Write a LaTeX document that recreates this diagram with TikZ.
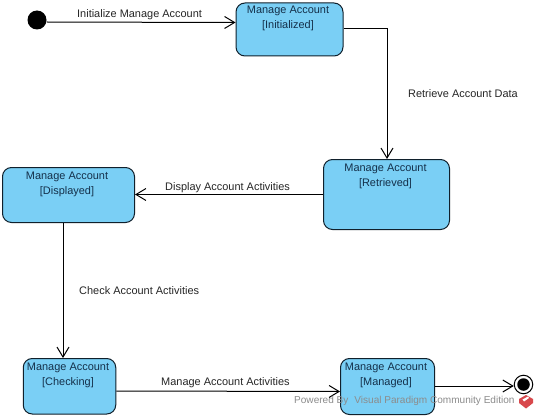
\documentclass[tikz,border=0pt]{standalone}
\usepackage{fontspec}
\setmainfont{Liberation Sans}
\usetikzlibrary{arrows.meta}
\definecolor{stfill}{HTML}{7ACFF5}
\definecolor{stline}{HTML}{10202C}
\definecolor{sttext}{HTML}{14304A}
\definecolor{logored}{HTML}{D8484C}
\tikzset{
  statebox/.style={draw=stline,fill=stfill,line width=1pt,rounded corners=9pt,anchor=north west,inner sep=0pt},
  lbl/.style={font=\fontsize{10.95}{15}\selectfont,text=black!85,inner sep=0pt},
  stlbl/.style={lbl,align=center,text=sttext},
  conn/.style={draw=black,line width=1pt,-{Straight Barb[length=10pt,width=12pt,line width=1pt]}},
  dot/.style={circle,fill=black,inner sep=0pt},
}
\begin{document}
\begin{tikzpicture}[x=1pt,y=-1pt]
\useasboundingbox (0,0) rectangle (538,417);
\fill[white] (0,0) rectangle (538,417);

\node[dot,minimum size=19pt] (start) at (37,20) {};
\node[statebox,minimum width=107pt,minimum height=53pt] (init) at (235.5,2.5) {};
\node[statebox,minimum width=126pt,minimum height=70pt] (retr) at (323,159) {};
\node[statebox,minimum width=132pt,minimum height=55pt] (disp) at (2,167) {};
\node[statebox,minimum width=92.5pt,minimum height=55.5pt] (chk) at (22.75,358) {};
\node[statebox,minimum width=94pt,minimum height=56pt] (mng) at (340,358) {};

\node[stlbl,anchor=north] (tinit) at (288,6) {Manage Account\\{}[Initialized]};
\node[stlbl,anchor=north] (tretr) at (385.5,164) {Manage Account\\{}[Retrieved]};
\node[stlbl,anchor=north] (tdisp) at (67,172) {Manage Account\\{}[Displayed]};
\node[stlbl,anchor=north] (tchk) at (68,362.5) {Manage Account\\{}[Checking]};
\node[stlbl,anchor=north] (tmng) at (386,362.5) {Manage Account\\{}[Managed]};

\node[circle,draw=black,fill=white,line width=1pt,minimum size=18.5pt,inner sep=0pt] (final) at (523.5,384.5) {};
\node[dot,minimum size=12.5pt] (finaldot) at (final) {};

\draw[conn] ([yshift=-2pt]start.east) -- ([yshift=7pt]init.west);
\draw[conn] ([yshift=1pt]init.east) -| (retr.north -| 387,0);
\draw[conn] (retr.west) -- (retr.west -| disp.east);
\draw[conn] (disp.south -| 63,0) -- (chk.north -| 63,0);
\draw[conn] ([yshift=-4.75pt]chk.east) -- ([yshift=-5pt]mng.west);
\draw[conn] ([yshift=0.5pt]mng.east) -- ([yshift=0.5pt]mng.east -| final.west);

\node[lbl,anchor=west] (l1) at (77,14.5) {Initialize Manage Account};
\node[lbl,anchor=west] (l2) at (408,94) {Retrieve Account Data};
\node[lbl,anchor=west] (l3) at (165,187.5) {Display Account Activities};
\node[lbl,anchor=west] (l4) at (79,291) {Check Account Activities};
\node[lbl,anchor=west] (l5) at (161,383) {Manage Account Activities};

\node[lbl,anchor=west,text=black!45,font=\fontsize{10.05}{12}\selectfont] (wm) at (294,400.5) {Powered By\hspace{6pt}Visual Paradigm Community Edition};
\fill[logored] (526,395) -- (533,399) -- (533,403) -- (526,408.5) -- (519,403) -- (519,399) -- cycle;
\fill[white] (522.5,399.5) -- (528,396.5) -- (529,398) -- (524,401.5) -- cycle;
\end{tikzpicture}
\end{document}
